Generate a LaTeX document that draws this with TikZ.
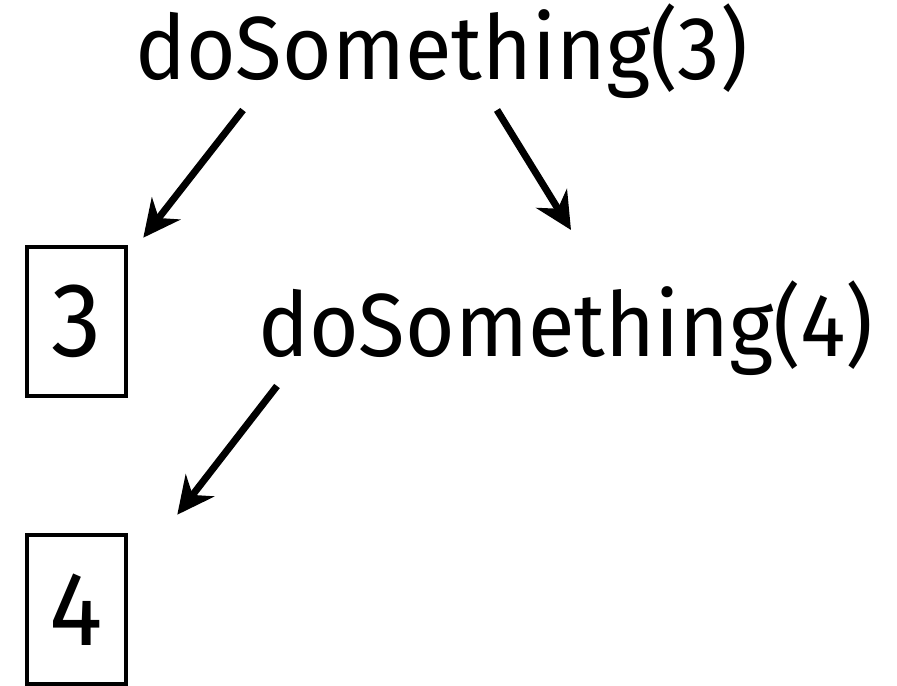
\documentclass[tikz,border=0pt]{standalone}
\usepackage{fontspec}
\setmainfont{Fira Sans}[FakeStretch=0.95]
\usetikzlibrary{arrows.meta}

\tikzstyle{call} = [anchor=base west, inner sep=0pt, font=\fontsize{51}{60}\selectfont]
\tikzstyle{result} = [rectangle, draw, line width=2.6pt, minimum width=1.98cm, minimum height=2.98cm, font=\fontsize{60}{70}\selectfont]
\tikzstyle{arrow} = [line width=4pt, -{Stealth[length=0.74cm, width=0.72cm, inset=0.24cm]}]

\begin{document}
\begin{tikzpicture}
    \useasboundingbox (0,0) rectangle (17.94,-13.72);
                \node (call3) [call] at (2.7,-1.6) {doSomething(3)};
                \node (res3) [result] at (1.53,-6.43) {3};
                \node (call4) [call] at (5.16,-7.14) {doSomething(4)};
                \node (res4) [result] at (1.53,-12.19) {4};

                \draw [arrow] ([xshift=2.16cm, yshift=-0.6cm]call3.base west) -- ([xshift=0.3cm, yshift=0.14cm]res3.north east);
                \draw [arrow] ([xshift=7.24cm, yshift=-0.6cm]call3.base west) -- ([xshift=6.26cm, yshift=2.54cm]call4.base west);
                \draw [arrow] ([xshift=0.38cm, yshift=-0.58cm]call4.base west) -- ([xshift=0.98cm, yshift=0.36cm]res4.north east);
            \end{tikzpicture}
\end{document}
